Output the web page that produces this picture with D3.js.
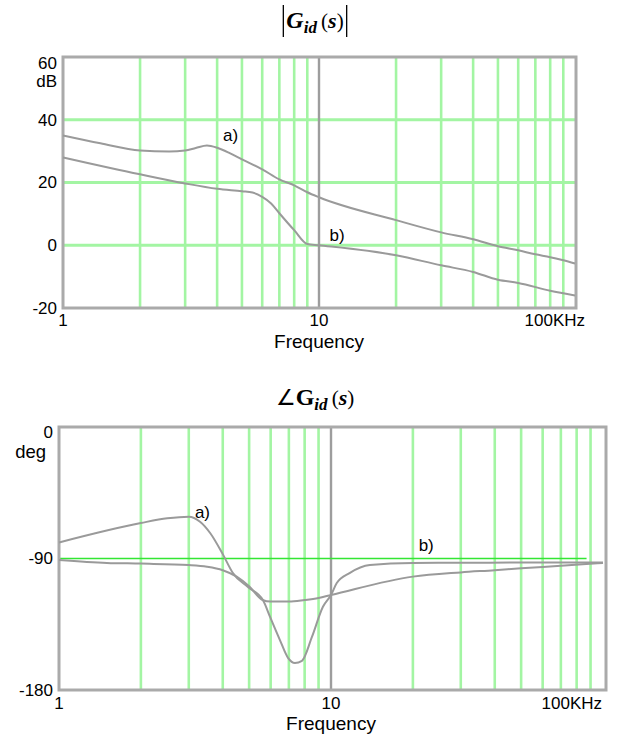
<!DOCTYPE html>
<html><head><meta charset="utf-8">
<script src="https://cdn.jsdelivr.net/npm/d3@7"></script>
<style>body{margin:0;background:#fff} svg{display:block}</style>
</head><body>
<script>
// ---------- data ----------
const gridFreqs = [2,3,4,5,6,7,8,9,20,30,40,50,60,70,80,90];
const decadeFreqs = [10];
const xTickValues = [1,10,100];
const xTickLabels = ["1","10","100KHz"];
const magTickValues = [60,40,20,0,-20];
const magGridValues = [40,20,0];
const phaseTickValues = [0,-90,-180];
const phaseRefValue = -90;
const phaseRefEndFreq = 87;

// |Gid(s)| curve a)
const magFreqA = [1,1.4,2,2.6,3,3.3,3.65,4,4.5,5,6,7,8,9,10,20,30,40,50,60,70,80,90,100];
const magA     = [35,32.5,30.2,29.9,30.2,31,31.8,31.1,29.3,27.4,24.2,21,19.1,16.9,15.3,8,4.1,1.9,-0.3,-1.6,-2.9,-3.8,-4.8,-5.8];
// |Gid(s)| curve b)
const magFreqB = [1,2,3,4,5,5.5,6,6.5,7,8,9,10,20,30,40,50,60,80,100];
const magB     = [28,22.6,19.7,18,17.2,16.8,15.4,13.3,10.2,4.8,0.4,0,-3.2,-6.4,-8.5,-11,-12,-14.5,-16];
// angle Gid(s) curve with peak and notch
const phFreqA = [1,2,2.5,3,3.3,3.6,4,4.36,4.95,5.62,5.97,6.49,6.95,7.37,7.82,8.51,9.34,10,10.5,11.7,13.9,20,30,50,100];
const phA     = [-79,-65.7,-62.5,-61.4,-64.8,-72.7,-87,-100,-109.5,-118.4,-130,-145.8,-158,-161.5,-160,-143.7,-123,-115,-106.8,-100,-94.5,-93,-92.9,-92.8,-92.8];
// angle Gid(s) curve with plateau
const phFreqB = [1,1.5,2,3,3.5,4,4.5,5,5.6,6,7,8,9,10,20,30,40,50,70,100];
const phB     = [-91,-93,-93.5,-94.5,-95.6,-98,-102.4,-109,-118.4,-119.5,-119.5,-118.4,-117,-115,-102.4,-99.5,-98,-96.7,-95,-93];

const labelsTop = [{t:"a)", f:4.22, v:33.3},{t:"b)", f:11.0, v:1.5}];
const labelsBot = [{t:"a)", f:3.16, v:-62},{t:"b)", f:21.0, v:-85}];

// ---------- styles ----------
const W=622,H=736;
const GRID="#a3f5a3", FRAME="#aaaaaa", CURVE="#9a9a9a";
const FONT="'Liberation Sans', Arial, sans-serif";
const SERIF="'Liberation Serif','Times New Roman',serif";

const svg=d3.select("body").append("svg").attr("width",W).attr("height",H);

function panel(opt){
  const g=svg.append("g");
  const x=d3.scaleLog().domain([1,100]).range([opt.x0,opt.x100]);
  const y=d3.scaleLinear().domain(opt.yDomain).range([opt.yBot,opt.yTop]);
  const xr=x(100)+opt.extra;
  g.selectAll(".vg").data(gridFreqs).enter().append("line")
    .attr("x1",d=>x(d)).attr("x2",d=>x(d)).attr("y1",opt.yTop).attr("y2",opt.yBot)
    .attr("stroke",GRID).attr("stroke-width",2.6);
  if(opt.hGrid){
    g.selectAll(".hg").data(opt.hGrid).enter().append("line")
      .attr("x1",opt.x0).attr("x2",xr).attr("y1",d=>y(d)).attr("y2",d=>y(d))
      .attr("stroke",GRID).attr("stroke-width",2.8);
  }
  g.selectAll(".dg").data(decadeFreqs).enter().append("line")
    .attr("x1",d=>x(d)).attr("x2",d=>x(d)).attr("y1",opt.yTop).attr("y2",opt.yBot)
    .attr("stroke","#9d9d9d").attr("stroke-width",2.4);
  if(opt.ref!==undefined){
    g.append("line").attr("x1",opt.x0).attr("x2",x(phaseRefEndFreq))
      .attr("y1",y(opt.ref)).attr("y2",y(opt.ref))
      .attr("stroke","#33e633").attr("stroke-width",1.6);
  }
  g.append("rect").attr("x",opt.x0).attr("y",opt.yTop).attr("width",xr-opt.x0).attr("height",opt.yBot-opt.yTop)
    .attr("fill","none").attr("stroke",FRAME).attr("stroke-width",3);
  const line=d3.line().x(d=>x(d[0])).y(d=>y(d[1])).curve(d3.curveMonotoneX);
  opt.series.forEach(s=>{
    g.append("path").datum(d3.zip(s[0],s[1])).attr("d",line)
      .attr("fill","none").attr("stroke",CURVE).attr("stroke-width",2);
  });
  g.selectAll(".yl").data(opt.yTicks).enter().append("text")
    .attr("x",opt.x0-6).attr("y",d=>y(d)+(d===opt.yTicks[0]?opt.topDy:0)).attr("dy","0.35em")
    .attr("text-anchor","end").attr("font-family",FONT).attr("font-size",17).text(d=>d);
  g.append("text").attr("x",opt.unitX).attr("y",opt.unitY).attr("text-anchor","end")
    .attr("font-family",FONT).attr("font-size",opt.unitSize).text(opt.unit);
  g.selectAll(".xl").data(xTickValues).enter().append("text")
    .attr("x",(d,i)=>i===2?x(d)+opt.lastDx:x(d)).attr("y",opt.xLabY)
    .attr("text-anchor",(d,i)=>i===2?"end":"middle")
    .attr("font-family",FONT).attr("font-size",17).text((d,i)=>xTickLabels[i]);
  g.append("text").attr("x",x(10)).attr("y",opt.freqY).attr("text-anchor","middle")
    .attr("font-family",FONT).attr("font-size",19).text("Frequency");
  g.selectAll(".cl").data(opt.labels).enter().append("text")
    .attr("x",d=>x(d.f)).attr("y",d=>y(d.v)).attr("font-family",FONT).attr("font-size",17).text(d=>d.t);
  return {x,y};
}

panel({x0:63,x100:575,extra:1,yTop:57,yBot:308,yDomain:[-20,60],hGrid:magGridValues,
  series:[[magFreqA,magA],[magFreqB,magB]],yTicks:magTickValues,topDy:6,
  unit:"dB",unitX:57,unitY:87,unitSize:17,xLabY:326,lastDx:10,freqY:348,labels:labelsTop});

panel({x0:59,x100:603,extra:3,yTop:427,yBot:690,yDomain:[-180,0],
  ref:phaseRefValue,
  series:[[phFreqA,phA],[phFreqB,phB]],yTicks:phaseTickValues,topDy:5,
  unit:"deg",unitX:46,unitY:458,unitSize:18.5,xLabY:709,lastDx:-1,freqY:730,labels:labelsBot});

// ---------- titles ----------
function title(cx,by,withAngle,bars){
  const t=svg.append("text").attr("x",cx).attr("y",by).attr("text-anchor","middle")
    .attr("font-family",SERIF).attr("fill","#000");
  if(withAngle) t.append("tspan").attr("font-size",22).text("∠");
  t.append("tspan").attr("font-size",24).attr("font-weight","bold").attr("font-style",withAngle?"normal":"italic").text("G");
  t.append("tspan").attr("font-size",17).attr("font-weight","bold").attr("font-style","italic").attr("dy",5).text("id");
  t.append("tspan").attr("font-size",21).attr("dy",-5).text("\u2009(");
  t.append("tspan").attr("font-size",22).attr("font-weight","bold").attr("font-style","italic").text("s");
  t.append("tspan").attr("font-size",21).text(")");
  if(bars){
    const b=t.node().getBBox();
    [b.x-3,b.x+b.width+3].forEach(xx=>{
      svg.append("line").attr("x1",xx).attr("x2",xx).attr("y1",5).attr("y2",37)
        .attr("stroke","#000").attr("stroke-width",1.3);
    });
  }
}
title(315,28,false,true);
title(315,405,true,false);
</script>
</body></html>
